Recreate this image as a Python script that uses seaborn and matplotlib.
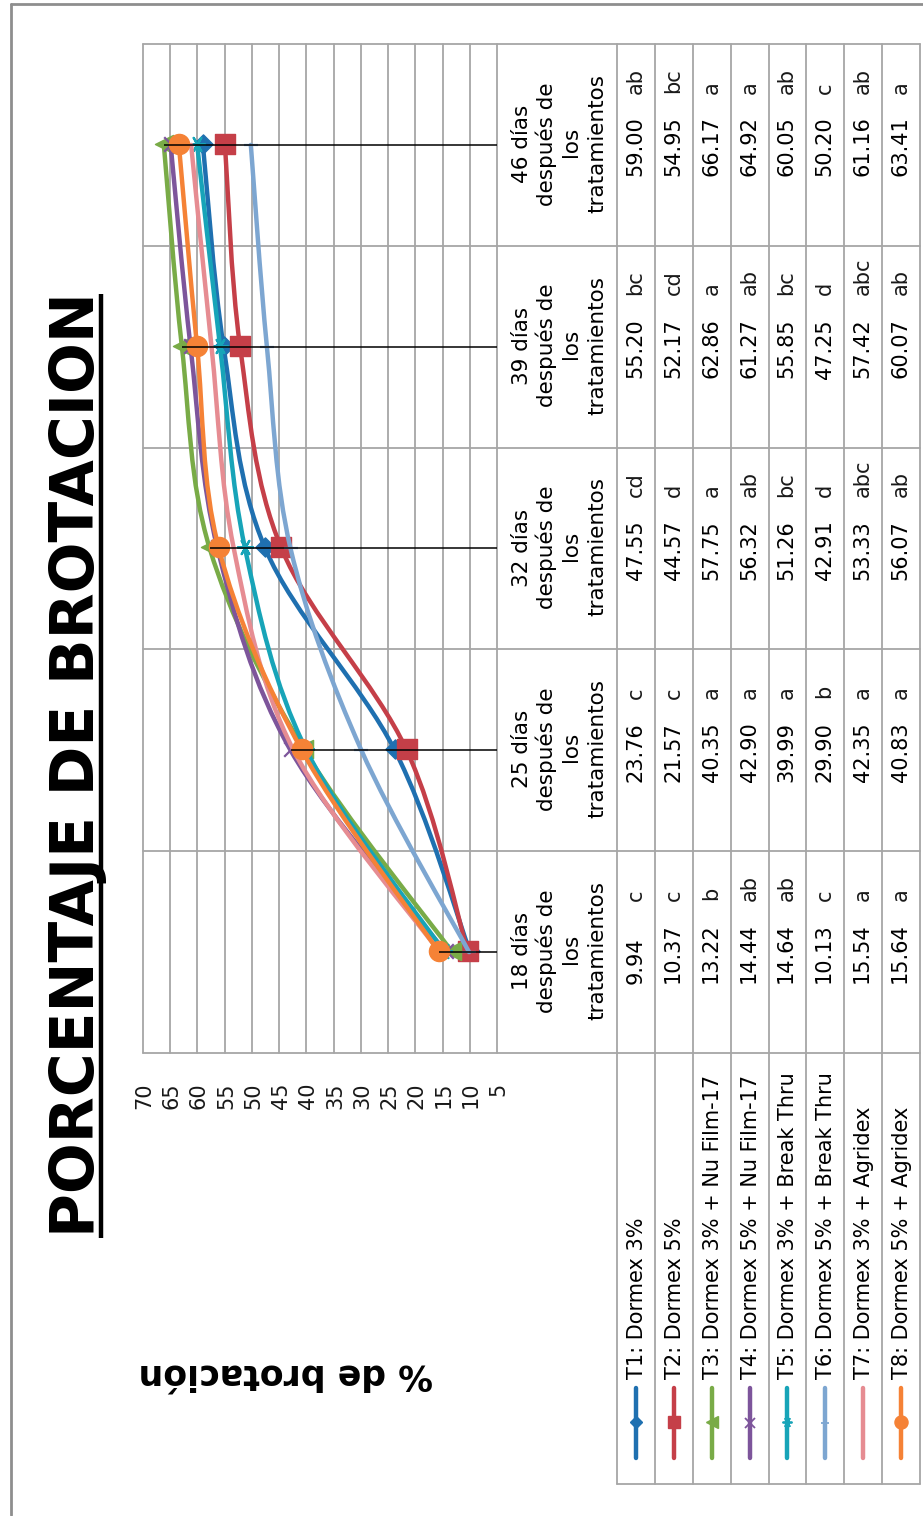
import numpy as np
import pandas as pd
import seaborn as sns
import matplotlib
matplotlib.use("Agg")
from matplotlib import pyplot as plt
from matplotlib import font_manager
from matplotlib.path import Path
from matplotlib.patches import PathPatch

days = ['18', '25', '32', '39', '46']
treatments = ['T1: Dormex 3%', 'T2: Dormex 5%',
              'T3: Dormex 3% + Nu Film-17', 'T4: Dormex 5% + Nu Film-17',
              'T5: Dormex 3% + Break Thru', 'T6: Dormex 5% + Break Thru',
              'T7: Dormex 3% + Agridex', 'T8: Dormex 5% + Agridex']
t1 = [9.94, 23.76, 47.55, 55.20, 59.00]
t2 = [10.37, 21.57, 44.57, 52.17, 54.95]
t3 = [13.22, 40.35, 57.75, 62.86, 66.17]
t4 = [14.44, 42.90, 56.32, 61.27, 64.92]
t5 = [14.64, 39.99, 51.26, 55.85, 60.05]
t6 = [10.13, 29.90, 42.91, 47.25, 50.20]
t7 = [15.54, 42.35, 53.33, 57.42, 61.16]
t8 = [15.64, 40.83, 56.07, 60.07, 63.41]
t1_sig = ['c', 'c', 'cd', 'bc', 'ab']
t2_sig = ['c', 'c', 'd', 'cd', 'bc']
t3_sig = ['b', 'a', 'a', 'a', 'a']
t4_sig = ['ab', 'a', 'ab', 'ab', 'a']
t5_sig = ['ab', 'a', 'bc', 'bc', 'ab']
t6_sig = ['c', 'b', 'd', 'd', 'c']
t7_sig = ['a', 'a', 'abc', 'abc', 'ab']
t8_sig = ['a', 'a', 'ab', 'ab', 'a']
yticks = list(range(5, 75, 5))

values = [t1, t2, t3, t4, t5, t6, t7, t8]
sigs = [t1_sig, t2_sig, t3_sig, t4_sig, t5_sig, t6_sig, t7_sig, t8_sig]
rows = []
for name, vals, ss in zip(treatments, values, sigs):
    for j, (v, s) in enumerate(zip(vals, ss)):
        rows.append({'trat': name, 'dia': j, 'valor': v, 'letra': s})
df = pd.DataFrame(rows)

colors = ['#1F70B0', '#C53F48', '#79AB47', '#7D559B',
          '#17A4B8', '#7DA6D1', '#E68C92', '#F58236']
markers = ['D', 's', '^', 'x', (6, 2, 0), '|', None, 'o']
msizes = [95, 200, 170, 110, 120, 90, 0, 210]

grid_c = '#A6A6A6'

sns.set_style('white')
plt.rcParams['font.family'] = ['DejaVu Sans']

# landscape canvas, rotated at the end
W, H = 1516, 923
PL, PR, PT, PB = 463, 1472, 143, 497
HDR, TB, LL = 617, 920, 32

fig = plt.figure(figsize=(W / 100, H / 100), dpi=100)
ov = fig.add_axes([0, 0, 1, 1])
ov.set_xlim(0, W)
ov.set_ylim(H, 0)
ov.axis('off')

ax = fig.add_axes([PL / W, 1 - PB / H, (PR - PL) / W, (PB - PT) / H])
ax.patch.set_alpha(0)
ax.set_xlim(-0.5, 4.5)
ax.set_ylim(5, 70)
for v in yticks:
    ax.axhline(v, color=grid_c, lw=1.3, zorder=0, clip_on=False)


def smooth_path(xs, ys):
    p = np.column_stack([xs, ys]).astype(float)
    e = np.vstack([p[0], p, p[-1]])
    verts, codes = [p[0]], [Path.MOVETO]
    for i in range(len(p) - 1):
        c1 = e[i + 1] + (e[i + 2] - e[i]) / 6
        c2 = e[i + 2] - (e[i + 3] - e[i + 1]) / 6
        verts += [c1, c2, p[i + 1]]
        codes += [Path.CURVE4] * 3
    return Path(verts, codes)


for k, name in enumerate(treatments):
    d = df[df['trat'] == name]
    ax.add_patch(PathPatch(smooth_path(d['dia'], d['valor']), fill=False,
                           edgecolor=colors[k], lw=3.2, capstyle='round',
                           zorder=2 + k * 0.1))
    if markers[k] is not None:
        filled = markers[k] in ('D', 's', '^', 'o')
        sns.scatterplot(data=d, x='dia', y='valor', ax=ax, marker=markers[k],
                        s=msizes[k], color=colors[k],
                        edgecolor=colors[k] if filled else None,
                        linewidth=1.0 if filled else 1.6,
                        zorder=2.05 + k * 0.1, legend=False)

# drop lines
top = df.groupby('dia')['valor'].max()
ax.vlines(top.index, 5, top.values, color='black', lw=1.1, zorder=5)

ax.set_yticks(yticks)
ax.set_xticks([])
ax.set_xlabel('')
ax.set_ylabel('')
ax.tick_params(axis='y', length=0, pad=23, labelsize=15, labelcolor='#1a1a1a')
for sp in ax.spines.values():
    sp.set_visible(False)

# data table
col_edges = np.linspace(PL, PR, 6)
row_edges = np.linspace(HDR, TB, 9)
for xe in col_edges:
    ov.plot([xe, xe], [PT, TB], color=grid_c, lw=1.3, zorder=0)
for ye in row_edges:
    ov.plot([LL, PR], [ye, ye], color=grid_c, lw=1.3, zorder=0)
ov.plot([LL, LL], [HDR, TB], color=grid_c, lw=1.3, zorder=0)

for j, dd in enumerate(days):
    cx = (col_edges[j] + col_edges[j + 1]) / 2
    for n, line in enumerate([f'{dd} días', 'después de', 'los', 'tratamientos']):
        ov.text(cx, 527 + 25.3 * n, line, ha='center', va='baseline',
                fontsize=15.5, color='black')

for k, name in enumerate(treatments):
    yc = (row_edges[k] + row_edges[k + 1]) / 2
    d = df[df['trat'] == name]
    for j, (v, s) in enumerate(zip(d['valor'], d['letra'])):
        ov.text(col_edges[j] + 67, yc, f'{v:.2f}', ha='left', va='center',
                fontsize=15, color='black')
        ov.text(col_edges[j] + 150, yc, s, ha='left', va='center',
                fontsize=15, color='#1b1b1b')
    # legend key
    ov.plot([58, 128], [yc, yc], color=colors[k], lw=3.2,
            solid_capstyle='round')
    if markers[k] is not None:
        filled = markers[k] in ('D', 's', '^', 'o')
        ov.plot([93], [yc], marker=markers[k], ms=np.sqrt(msizes[k]) * 0.65,
                color=colors[k], mew=1.0 if filled else 1.3, ls='none')
    ov.text(136, yc, name, ha='left', va='center', fontsize=15, color='black')

# outer frame (only two sides visible)
ov.plot([0, 1511], [11, 11], color='#8E8E8E', lw=2)
ov.plot([1511, 1511], [11, H], color='#8E8E8E', lw=2)

# title and axis label
title = fig.text(750 / W, 1 - 93 / H, 'PORCENTAJE DE BROTACION', ha='center',
                 va='baseline', fontsize=43, fontweight='bold', color='black')

installed = {f.name for f in font_manager.fontManager.ttflist}
if 'Liberation Sans Narrow' in installed:
    lab_family, lab_size = ['Liberation Sans Narrow', 'DejaVu Sans'], 34
else:
    lab_family, lab_size = ['DejaVu Sans'], 25
fig.text(141 / W, 1 - 285 / H, '% de brotación', rotation=90, ha='center',
         va='center', fontsize=lab_size, fontweight='bold', color='black',
         family=lab_family)

fig.canvas.draw()
bb = title.get_window_extent()
ov.plot([bb.x0, bb.x1], [101, 101], color='black', lw=3.2,
        solid_capstyle='butt')

fig.canvas.draw()
img = np.asarray(fig.canvas.buffer_rgba())
plt.imsave('out.png', np.rot90(img, k=1))
